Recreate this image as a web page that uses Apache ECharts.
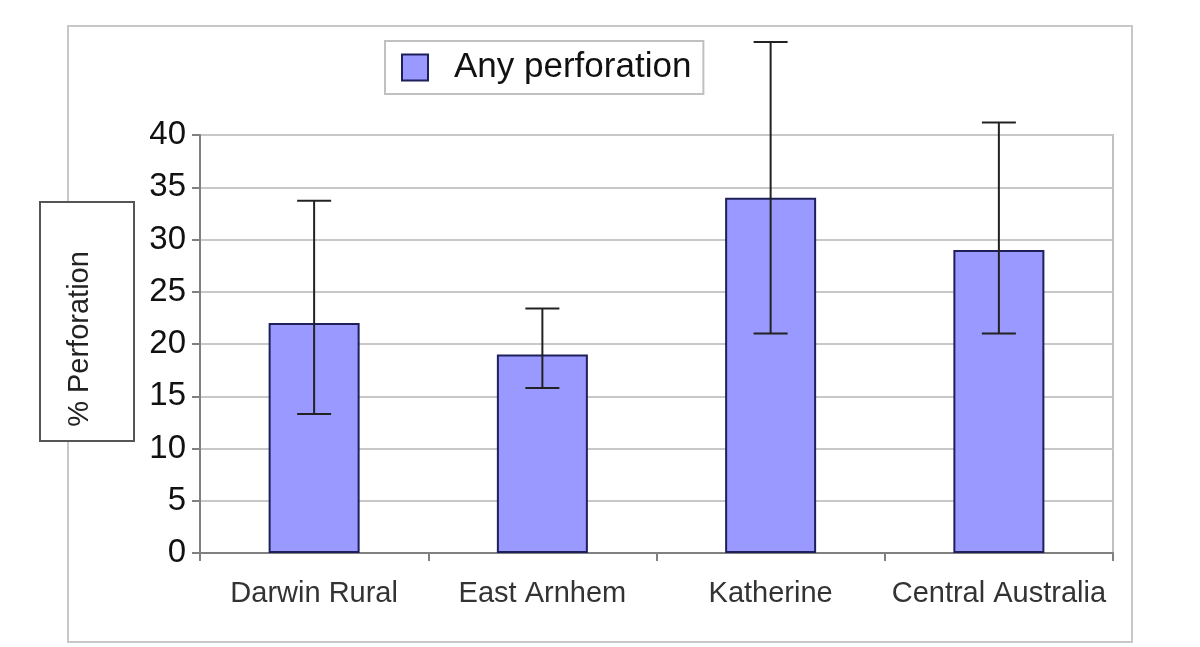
<!DOCTYPE html>
<html>
<head>
<meta charset="utf-8">
<script src="https://cdn.jsdelivr.net/npm/echarts@6/dist/echarts.min.js"></script>
<style>
  html, body { margin: 0; padding: 0; background: #fff; }
  #chart { width: 1200px; height: 647px; }
</style>
</head>
<body>
<div id="chart"></div>
<script>
// data
const categories = ['Darwin Rural', 'East Arnhem', 'Katherine', 'Central Australia'];
const perforation = [22, 19, 34, 29];
const errLow = [13.3, 15.8, 21.0, 21.0];
const errHigh = [33.7, 23.4, 48.9, 41.2];
const yTicks = { min: 0, max: 40, interval: 5 };

const chart = echarts.init(document.getElementById('chart'));

const errorData = categories.map((c, i) => [i, errLow[i], errHigh[i]]);

const option = {
  animation: false,
  textStyle: { fontFamily: 'Liberation Sans, Arial, sans-serif' },
  graphic: [
    {
      type: 'rect', z: -1, silent: true,
      shape: { x: 68, y: 26, width: 1064, height: 616 },
      style: { fill: 'none', stroke: '#c8c8c8', lineWidth: 2 }
    },
    {
      type: 'rect', z: 10, silent: true,
      shape: { x: 40, y: 202, width: 94, height: 239 },
      style: { fill: '#fff', stroke: '#555', lineWidth: 2 }
    },
    {
      type: 'text', z: 11, silent: true,
      x: 80, y: 339, rotation: Math.PI / 2,
      style: {
        text: '% Perforation',
        font: '29px "Liberation Sans", Arial, sans-serif',
        fill: '#222', align: 'center', verticalAlign: 'middle'
      }
    }
  ],
  legend: {
    data: ['Any perforation'],
    left: 385, top: 41,
    padding: [9, 12, 9, 16],
    borderColor: '#c0c0c0', borderWidth: 2,
    itemWidth: 26, itemHeight: 26,
    icon: 'rect',
    textStyle: { fontSize: 35, lineHeight: 30, color: '#111', padding: [0, 0, 0, 21] }
  },
  grid: {
    left: 200, right: 87, top: 135, bottom: 94,
    show: true, borderColor: '#c0c0c0', borderWidth: 2
  },
  xAxis: {
    type: 'category',
    data: categories,
    axisLine: { lineStyle: { color: '#808080', width: 2 } },
    axisTick: { show: true, length: 8, interval: 0, lineStyle: { color: '#808080', width: 2 } },
    axisLabel: { fontSize: 29, color: '#333', margin: 26, interval: 0 },
    splitLine: { show: false }
  },
  yAxis: {
    type: 'value',
    min: yTicks.min, max: yTicks.max, interval: yTicks.interval,
    axisLine: { show: true, lineStyle: { color: '#808080', width: 2 } },
    axisTick: { show: true, length: 8, lineStyle: { color: '#808080', width: 2 } },
    axisLabel: { fontSize: 33, color: '#111', margin: 14 },
    splitLine: { lineStyle: { color: '#c8c8c8', width: 2 } }
  },
  series: [
    {
      name: 'Any perforation',
      type: 'bar',
      data: perforation,
      barWidth: 91,
      itemStyle: { color: '#9999ff', borderColor: '#1f1f5a', borderWidth: 2 }
    },
    {
      name: 'error',
      type: 'custom',
      clip: false,
      z: 5,
      data: errorData,
      encode: { x: 0, y: [1, 2] },
      renderItem: function (params, api) {
        const idx = api.value(0);
        const lo = api.coord([idx, api.value(1)]);
        const hi = api.coord([idx, api.value(2)]);
        const half = 17;
        const style = { stroke: '#222', lineWidth: 2 };
        return {
          type: 'group',
          children: [
            { type: 'line', shape: { x1: hi[0], y1: hi[1], x2: lo[0], y2: lo[1] }, style: style },
            { type: 'line', shape: { x1: hi[0] - half, y1: hi[1], x2: hi[0] + half, y2: hi[1] }, style: style },
            { type: 'line', shape: { x1: lo[0] - half, y1: lo[1], x2: lo[0] + half, y2: lo[1] }, style: style }
          ]
        };
      }
    }
  ]
};

chart.setOption(option);
</script>
</body>
</html>
